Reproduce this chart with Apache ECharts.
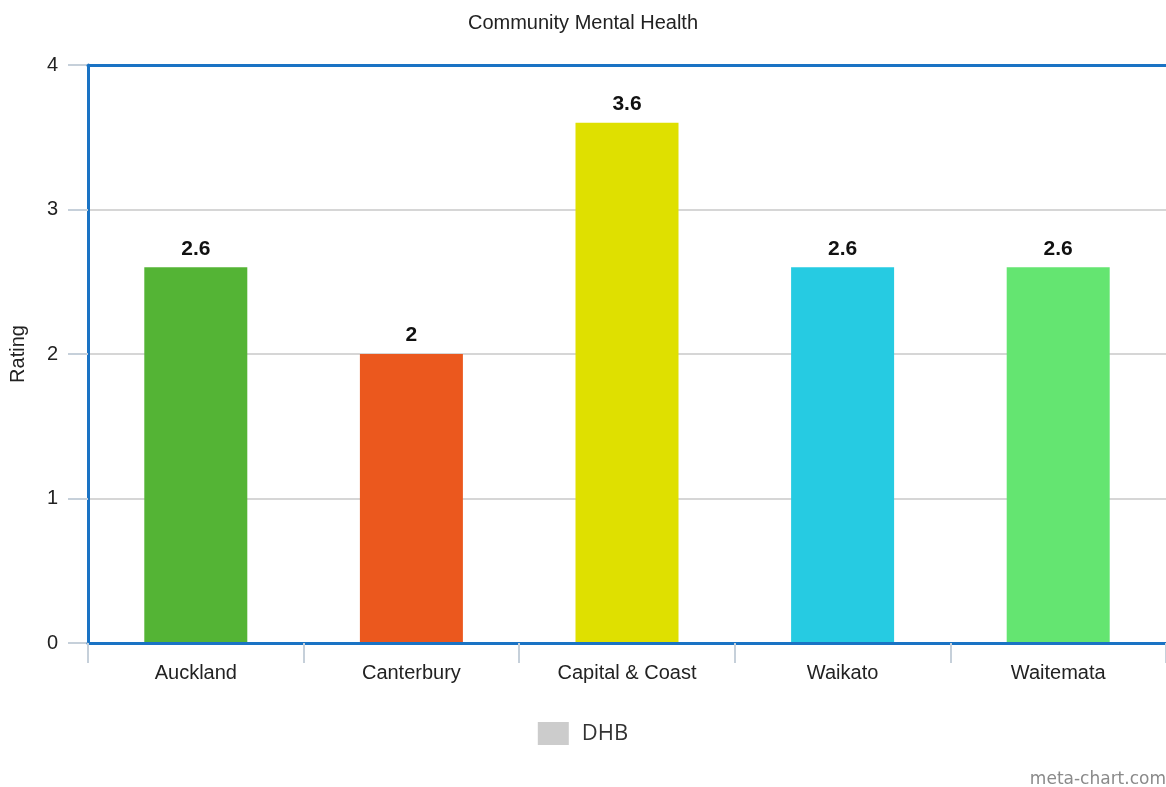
<!DOCTYPE html>
<html>
<head>
<meta charset="utf-8">
<script src="https://cdn.jsdelivr.net/npm/echarts@6/dist/echarts.min.js"></script>
<style>
html,body{margin:0;padding:0;background:#fff;}
#chart{width:1166px;height:787px;}
</style>
</head>
<body>
<div id="chart"></div>
<script>
const categories = ['Auckland', 'Canterbury', 'Capital & Coast', 'Waikato', 'Waitemata'];
const values = [2.6, 2, 3.6, 2.6, 2.6];
const barColors = ['#54b435', '#eb581e', '#dfe000', '#26cbe2', '#64e571'];
const yTicks = [0, 1, 2, 3, 4];
const seriesName = 'DHB';

const chart = echarts.init(document.getElementById('chart'));
const font = '"Liberation Sans", Arial, sans-serif';
const blue = '#1a73c4';
chart.setOption({
  animation: false,
  backgroundColor: '#fff',
  title: {
    text: 'Community Mental Health',
    left: 'center',
    top: 8,
    textStyle: { fontFamily: font, fontSize: 20, fontWeight: 'normal', color: '#222' }
  },
  legend: {
    data: [seriesName],
    left: 'center',
    top: 717,
    icon: 'rect',
    itemWidth: 31,
    itemHeight: 23,
    itemGap: 10,
    textStyle: { fontFamily: '"Open Sans", sans-serif', fontSize: 22, color: '#333', padding: [0, 0, 0, 8] }
  },
  grid: {
    left: 88, top: 65, width: 1078, bottom: 144,
    show: false,
    containLabel: false
  },
  xAxis: [{
    type: 'category',
    data: categories,
    axisLine: { show: true, lineStyle: { color: blue, width: 3 } },
    axisTick: { show: true, length: 20, lineStyle: { color: '#c6d0da', width: 2 } },
    axisLabel: { margin: 20, fontFamily: font, fontSize: 20, color: '#222' },
    splitLine: { show: false },
    z: 5
  }, {
    type: 'category',
    data: categories,
    position: 'top',
    axisLine: { show: true, lineStyle: { color: blue, width: 3 } },
    axisTick: { show: false },
    axisLabel: { show: false },
    splitLine: { show: false },
    z: 5
  }],
  yAxis: {
    type: 'value',
    min: yTicks[0],
    max: yTicks[yTicks.length - 1],
    interval: 1,
    name: 'Rating',
    nameLocation: 'middle',
    nameGap: 60,
    nameTextStyle: { fontFamily: font, fontSize: 20, color: '#222' },
    axisLine: { show: true, lineStyle: { color: blue, width: 3 } },
    axisTick: { show: true, length: 20, lineStyle: { color: '#c6d0da', width: 2 } },
    axisLabel: { margin: 30, fontFamily: font, fontSize: 20, color: '#222' },
    splitLine: { show: true, showMinLine: false, showMaxLine: false, lineStyle: { color: '#c8c8c8', width: 1.5 } }
  },
  series: [{
    name: seriesName,
    type: 'bar',
    barWidth: 103,
    itemStyle: { color: '#cccccc' },
    data: values.map((v, i) => ({ value: v, itemStyle: { color: barColors[i] } })),
    label: {
      show: true,
      position: 'top',
      distance: 8,
      fontFamily: font,
      fontSize: 21,
      fontWeight: 'bold',
      color: '#111'
    }
  }],
  graphic: [{
    type: 'text',
    right: 0,
    bottom: -1,
    style: {
      text: 'meta-chart.com',
      fontFamily: '"DejaVu Sans", sans-serif',
      fontSize: 17,
      fill: '#8a8a8a'
    }
  }]
});
</script>
</body>
</html>
